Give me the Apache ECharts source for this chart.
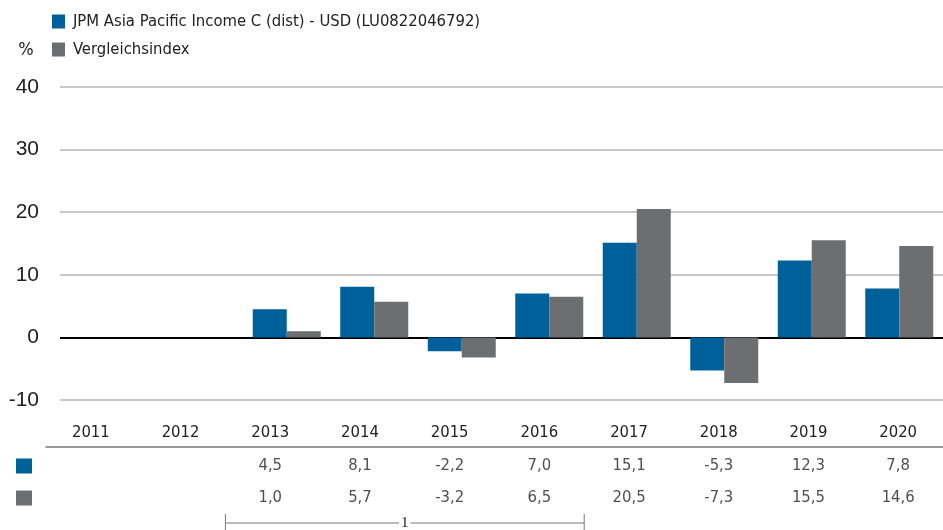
<!DOCTYPE html>
<html>
<head>
<meta charset="utf-8">
<script src="https://cdn.jsdelivr.net/npm/echarts@6/dist/echarts.min.js"></script>
<style>
html,body{margin:0;padding:0;background:#fff;}
#chart{width:943px;height:530px;}
</style>
</head>
<body>
<div id="chart"></div>
<script>
// ---- data ----
const years = ['2011','2012','2013','2014','2015','2016','2017','2018','2019','2020'];
const fundName = 'JPM Asia Pacific Income C (dist) - USD (LU0822046792)';
const indexName = 'Vergleichsindex';
const fundValues = [null, null, 4.5, 8.1, -2.2, 7.0, 15.1, -5.3, 12.3, 7.8];
const indexValues = [null, null, 1.0, 5.7, -3.2, 6.5, 20.5, -7.3, 15.5, 14.6];
const yTicks = [-10, 0, 10, 20, 30, 40];
const bracketRange = ['2013', '2016'];
const bracketLabel = '1';

const BLUE = '#00609a';
const GREY = '#6d6e70';
const NARROW = '"DejaVu Sans Condensed", "DejaVu Sans", sans-serif';
const FS = 16.5;
const fmt = v => v == null ? '' : v.toFixed(1).replace('.', ',');

const tableData = [];
years.forEach((y, i) => {
  if (fundValues[i] != null) tableData.push([i, 0, fundValues[i]]);
  if (indexValues[i] != null) tableData.push([i, 1, indexValues[i]]);
});

const chart = echarts.init(document.getElementById('chart'), null, {renderer: 'canvas'});
const yMin = yTicks[0], yMax = yTicks[yTicks.length - 1];
const lineColors = yTicks.map(t => t === 0 ? '#000000' : '#c8c8c8');

chart.setOption({
  animation: false,
  backgroundColor: '#ffffff',
  legend: {
    orient: 'vertical',
    left: 52,
    top: 12.5,
    padding: 0,
    itemGap: 10,
    itemWidth: 13,
    itemHeight: 14,
    icon: 'rect',
    textStyle: {fontFamily: NARROW, fontSize: FS, color: '#222', lineHeight: 18, padding: [0, 0, 0, 3]},
    data: [fundName, indexName]
  },
  grid: [
    {left: 68, right: 0, top: 87, height: 313},
    {left: 60, right: 0, top: 87, height: 313},
    {left: 46, right: 0, top: 450, height: 64}
  ],
  xAxis: [
    {gridIndex: 0, type: 'category', data: years, show: false},
    {gridIndex: 1, type: 'value', min: 0, max: 1, show: false},
    {gridIndex: 2, type: 'category', data: years, position: 'top', offset: 3,
     axisLine: {show: true, lineStyle: {color: '#777', width: 1.5}},
     axisTick: {show: false},
     axisLabel: {fontFamily: NARROW, fontSize: FS, color: '#222', margin: 6}}
  ],
  yAxis: [
    {gridIndex: 0, type: 'value', min: yMin, max: yMax, interval: 10, show: false},
    {gridIndex: 1, type: 'value', min: yMin, max: yMax, interval: 10,
     name: '%', nameLocation: 'end', nameGap: 28,
     nameTextStyle: {fontFamily: NARROW, fontSize: 18, color: '#222', align: 'center', padding: [0, 68, 0, 0]},
     axisLine: {show: false}, axisTick: {show: false},
     axisLabel: {fontFamily: '"Liberation Sans", Arial, sans-serif', fontSize: 21, color: '#222', margin: 21},
     splitLine: {show: true, lineStyle: {color: lineColors, width: 2}}},
    {gridIndex: 2, type: 'category', data: ['fund', 'index'], inverse: true,
     axisLine: {show: false}, axisTick: {show: false},
     axisLabel: {margin: 14,
       formatter: (v, i) => i === 0 ? '{a| }' : '{b| }',
       rich: {a: {width: 16, height: 15, backgroundColor: BLUE},
              b: {width: 16, height: 15, backgroundColor: GREY}}}}
  ],
  series: [
    {name: fundName, type: 'bar', xAxisIndex: 0, yAxisIndex: 0, data: fundValues,
     barWidth: 34, barGap: '0%', itemStyle: {color: BLUE}, z: 3},
    {name: indexName, type: 'bar', xAxisIndex: 0, yAxisIndex: 0, data: indexValues,
     barWidth: 34, barGap: '0%', itemStyle: {color: GREY}, z: 3},
    {type: 'scatter', xAxisIndex: 1, yAxisIndex: 1, data: [], silent: true},
    {type: 'scatter', xAxisIndex: 2, yAxisIndex: 2, data: tableData, symbolSize: 0, silent: true,
     label: {show: true, position: 'inside', fontFamily: NARROW, fontSize: FS, color: '#222',
             formatter: p => fmt(p.value[2])}},
    {type: 'custom', xAxisIndex: 2, yAxisIndex: 2, silent: true,
     data: [[years.indexOf(bracketRange[0]), years.indexOf(bracketRange[1])]],
     renderItem: (params, api) => {
       const half = api.size([1, 0])[0] / 2;
       const x0 = api.coord([api.value(0), 1])[0] - half;
       const x1 = api.coord([api.value(1), 1])[0] + half;
       const y = api.coord([api.value(0), 1])[1] + 25;
       const st = {stroke: '#777', lineWidth: 1};
       return {type: 'group', children: [
         {type: 'line', shape: {x1: x0, y1: y, x2: x1, y2: y}, style: st},
         {type: 'line', shape: {x1: x0, y1: y - 9, x2: x0, y2: y + 8}, style: st},
         {type: 'line', shape: {x1: x1, y1: y - 9, x2: x1, y2: y + 8}, style: st},
         {type: 'text', x: (x0 + x1) / 2, y: y,
          style: {text: bracketLabel, fill: '#222', font: '15px "Liberation Serif", serif',
                  align: 'center', verticalAlign: 'middle', backgroundColor: '#fff', padding: [0, 2]}}
       ]};
     }}
  ]
});
</script>
</body>
</html>
